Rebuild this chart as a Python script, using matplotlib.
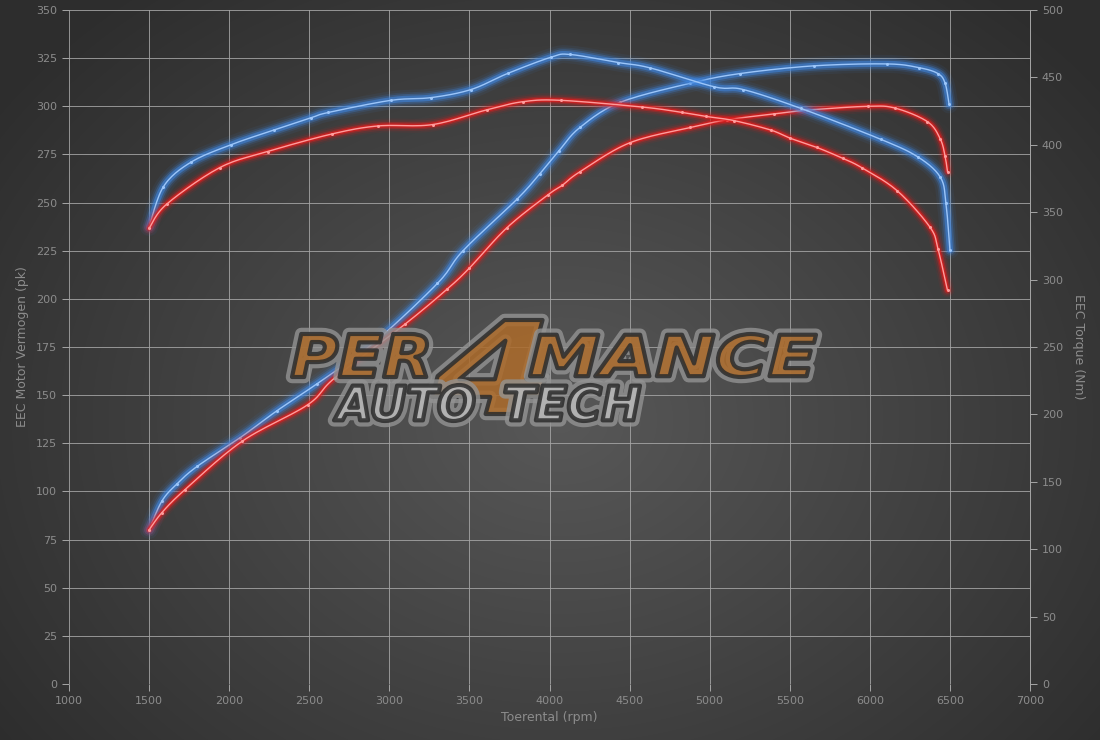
import numpy as np
import matplotlib
matplotlib.use('Agg')
import matplotlib.pyplot as plt
from matplotlib.textpath import TextPath
from matplotlib.patches import PathPatch
from matplotlib.font_manager import FontProperties
from matplotlib.transforms import Affine2D

# vermogen (pk) - getuned (blauw) en origineel (rood)
rpm_pk_tuned = [1500, 1580, 1675, 1800, 2070, 2300, 2550, 2900, 3300, 3460, 3800, 3940, 4060,
                4190, 4440, 4880, 5190, 5650, 6110, 6310, 6425, 6470, 6495]
pk_tuned = [80, 95, 104, 113, 128, 142, 156, 177, 208, 225, 252, 265, 277,
            289, 302, 312, 317, 321, 322, 320, 317, 312, 301]

rpm_pk_stock = [1500, 1580, 1725, 2080, 2490, 2660, 3100, 3360, 3500, 3735, 3990, 4080,
                4190, 4500, 4880, 5110, 5400, 5610, 5990, 6160, 6360, 6440, 6470, 6485]
pk_stock = [80, 89, 101, 126, 145, 159, 187, 205, 216, 237, 254, 259,
            266, 281, 289, 293, 296, 298, 300, 299, 292, 283, 274, 266]

# koppel (Nm)
rpm_nm_tuned = [1500, 1590, 1760, 2010, 2280, 2510, 2620, 3010, 3260, 3510, 3740, 4010,
                4130, 4430, 4630, 5030, 5210, 5570, 6070, 6300, 6440, 6475, 6500]
nm_tuned = [339, 369, 387, 400, 411, 420, 424, 433, 435, 441, 453, 465,
            467, 461, 457, 443, 441, 427, 404, 391, 376, 357, 322]

rpm_nm_stock = [1500, 1610, 1940, 2240, 2640, 2930, 3270, 3610, 3835, 4070, 4580, 4830,
                4980, 5150, 5380, 5500, 5670, 5830, 5950, 6170, 6375, 6425, 6485]
nm_stock = [338, 356, 383, 395, 408, 414, 415, 426, 432, 433, 428, 424,
            421, 418, 411, 405, 398, 390, 383, 366, 339, 323, 292]

x_ticks = list(range(1000, 7001, 500))
pk_ticks = list(range(0, 351, 25))
nm_ticks = list(range(0, 501, 50))

TXT = '#8c8c8c'
GRID = '#a6a6a6'


def smooth(x, y, n=14):
    # catmull-rom door de meetpunten, alleen voor het tekenen
    P = np.column_stack([x, y]).astype(float)
    P = np.vstack([P[0], P, P[-1]])
    t = np.linspace(0, 1, n, endpoint=False)[:, None]
    out = []
    for i in range(1, len(P) - 2):
        p0, p1, p2, p3 = P[i - 1], P[i], P[i + 1], P[i + 2]
        seg = 0.5 * (2 * p1 + (-p0 + p2) * t + (2 * p0 - 5 * p1 + 4 * p2 - p3) * t ** 2
                     + (-p0 + 3 * p1 - 3 * p2 + p3) * t ** 3)
        out.append(seg)
    out.append(P[-2][None, :])
    out = np.vstack(out)
    return out[:, 0], out[:, 1]


def glow(axis, x, y, core, halo, widths):
    xs, ys = smooth(x, y)
    for lw, a in widths:
        axis.plot(xs, ys, color=halo, lw=lw, alpha=a, solid_capstyle='round', solid_joinstyle='round')
    axis.plot(xs, ys, color=core, lw=1.0, solid_capstyle='round')
    axis.plot(x, y, 'o', ms=2.2, color=core, mew=0)


fig = plt.figure(figsize=(11, 7.4), dpi=100)

# achtergrond met radiaal verloop
bg = fig.add_axes([0, 0, 1, 1], zorder=-10)
yy, xx = np.mgrid[0:740, 0:1100]
r = np.sqrt(((xx - 560) / 700.0) ** 2 + ((yy - 420) / 560.0) ** 2)
shade = np.clip(0.345 - 0.17 * r, 0.18, 0.36)
bg.imshow(np.dstack([shade, shade, shade]), extent=[0, 1100, 740, 0], aspect='auto')
bg.axis('off')

ax = fig.add_axes([69 / 1100, 1 - 684 / 740, (1030 - 69) / 1100, (684 - 10) / 740])
ax.set_facecolor('none')
ax.set_xlim(1000, 7000)
ax.set_ylim(0, 350)
ax.set_xticks(x_ticks)
ax.set_yticks(pk_ticks)
ax.grid(True, color=GRID, lw=0.7, alpha=0.85)
ax.tick_params(colors=GRID, labelcolor=TXT, labelsize=8, length=5, width=0.7)
for s in ax.spines.values():
    s.set_visible(False)
ax.set_xlabel('Toerental (rpm)', color=TXT, fontsize=9, labelpad=4)
ax.set_ylabel('EEC Motor Vermogen (pk)', color=TXT, fontsize=9, labelpad=5)

ax2 = ax.twinx()
ax2.set_ylim(0, 500)
ax2.set_yticks(nm_ticks)
ax2.tick_params(colors=GRID, labelcolor=TXT, labelsize=8, length=5, width=0.7)
for k, s in ax2.spines.items():
    s.set_visible(k == 'right')
ax2.spines['right'].set_color(GRID)
ax2.spines['right'].set_linewidth(0.7)
ax2.set_ylabel('EEC Torque (Nm)', color=TXT, fontsize=9, rotation=270, labelpad=16)

blue_w = [(13, 0.07), (9.5, 0.13), (7, 0.28), (4.5, 0.55)]
red_w = [(10, 0.07), (7.5, 0.15), (5, 0.35), (3, 0.7)]

glow(ax, rpm_pk_tuned, pk_tuned, '#9cc6fa', '#3f86e0', blue_w)
glow(ax, rpm_pk_stock, pk_stock, '#ff9c9c', '#e01d1d', red_w)
glow(ax2, rpm_nm_tuned, nm_tuned, '#9cc6fa', '#3f86e0', blue_w)
glow(ax2, rpm_nm_stock, nm_stock, '#ff9c9c', '#e01d1d', red_w)

# logo in pixel-coordinaten
logo = fig.add_axes([0, 0, 1, 1], zorder=10)
logo.set_xlim(0, 1100)
logo.set_ylim(740, 0)
logo.axis('off')
logo.patch.set_alpha(0)
fp = FontProperties(family='DejaVu Sans', weight='bold', style='italic')


def word(s, x0, y0, x1, y1, fc):
    tp = TextPath((0, 0), s, prop=fp, size=100)
    ext = tp.get_extents()
    tr = (Affine2D().translate(-ext.x0, -ext.y0)
          .scale((x1 - x0) / ext.width, -(y1 - y0) / ext.height)
          .translate(x0, y1))
    p = tr.transform_path(tp)
    logo.add_patch(PathPatch(p, fc='none', ec='#939393', lw=9, alpha=0.8, joinstyle='round'))
    logo.add_patch(PathPatch(p, fc=fc, ec='#2c2c2c', lw=3, alpha=0.85, joinstyle='round'))


word('4', 432, 320, 545, 414, '#ad6b2a')
word('PER', 292, 334, 427, 377, '#ad6b2a')
word('MANCE', 530, 334, 816, 377, '#ad6b2a')
word('AUTO', 334, 385, 474, 421, '#b9b9b9')
word('TECH', 505, 385, 640, 421, '#b9b9b9')

fig.savefig('out.png', dpi=100, facecolor='#333333')
